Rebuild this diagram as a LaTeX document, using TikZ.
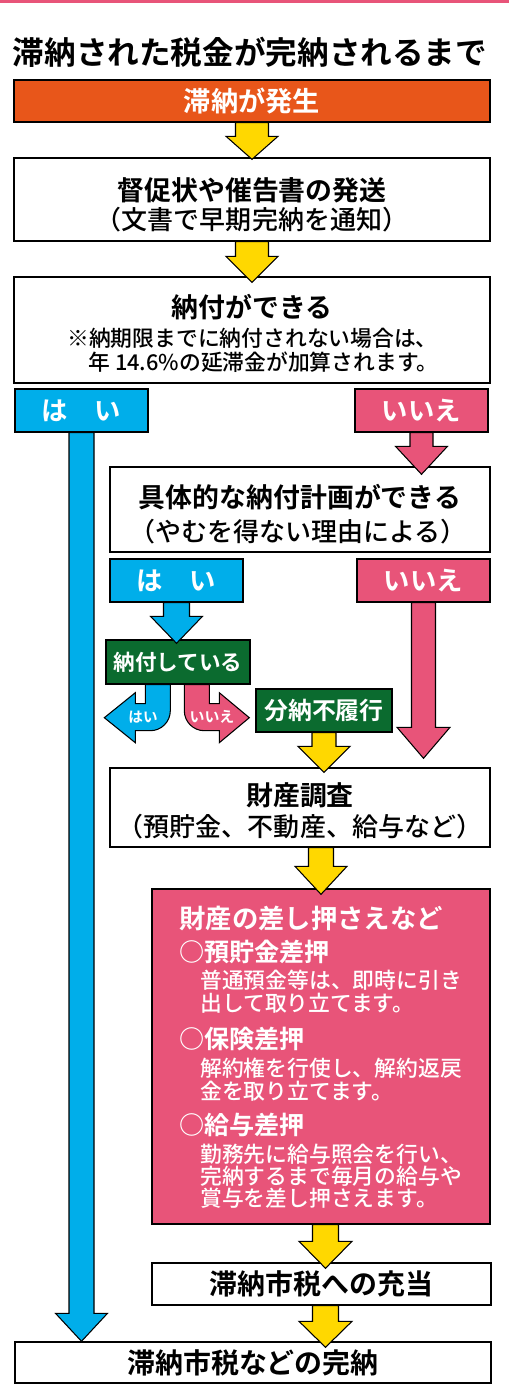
\documentclass[tikz,border=0pt]{standalone}
\usepackage{fontspec}
\setmainfont{Noto Sans CJK JP}[UprightFont={* Medium}, BoldFont={* Bold}]
\usetikzlibrary{calc}
\definecolor{occurorange}{HTML}{E8561A}
\definecolor{yesblue}{HTML}{00AEEA}
\definecolor{nopink}{HTML}{E85479}
\definecolor{paygreen}{HTML}{0B6B2F}
\definecolor{flowyellow}{HTML}{FFD800}

\begin{document}
\begin{tikzpicture}[x=0.02cm, y=-0.02cm]
    % Pixel unit
    \newcommand{\pxu}{0.02cm}
    % Block arrow: fill, start, tip, shaft half width, head half width, head length
    \newcommand{\blockarrow}[6]{
        \draw[line width=0.6pt, fill=#1] let \p1=#2, \p2=#3 in
        (\x2-#4*\pxu, \y1) -- (\x2-#4*\pxu, \y2+#6*\pxu) -- (\x2-#5*\pxu, \y2+#6*\pxu) -- (\x2, \y2)
        -- (\x2+#5*\pxu, \y2+#6*\pxu) -- (\x2+#4*\pxu, \y2+#6*\pxu) -- (\x2+#4*\pxu, \y1) -- cycle;
    }
    % Styles
    \tikzstyle{box}=[draw=black, line width=0.8pt, fill=white, inner sep=0pt]
    \tikzstyle{wide}=[box, minimum width=9.52cm]
    \tikzstyle{tag}=[box, minimum width=2.66cm, minimum height=0.86cm, text=white,
        font=\fontsize{15}{18}\selectfont\bfseries]
    \tikzstyle{head}=[inner sep=0pt, font=\fontsize{15.3}{18}\selectfont\bfseries]
    \tikzstyle{sub}=[inner sep=0pt, font=\fontsize{14.8}{17}\selectfont]
    \tikzstyle{note}=[anchor=west, inner sep=0pt, font=\fontsize{12.4}{14}\selectfont]
    \tikzstyle{item}=[anchor=west, inner sep=0pt, text=white, font=\fontsize{14.3}{16}\selectfont\bfseries]

    % Page
    \fill[white] (0,0) rectangle (509,1393);
    \useasboundingbox (0,0) rectangle (509,1393);
    \fill[nopink] (0,0) rectangle (509,3);

    % Title
    \node[inner sep=0pt, font=\fontsize{18}{20}\selectfont\bfseries] (title) at (250,52)
    {滞納された税金が完納されるまで};

    % Main boxes
    \node[wide, fill=occurorange, minimum height=0.84cm, text=white,
        font=\fontsize{15.5}{18}\selectfont\bfseries] (occur) at (252,101) {滞納が発生};
    \node[wide, minimum height=1.66cm] (notice) at (252,199.5) {};
    \node[head] (noticehead) at (252,190) {督促状や催告書の発送};
    \node[sub] (noticesub) at (252,220) {（文書で早期完納を通知）};

    \node[wide, minimum height=2.12cm] (canpay) at (252,330) {};
    \node[head] (canpayhead) at (252,307) {納付ができる};
    \node[note] (canpaynote) at (67,338) {※納期限までに納付されない場合は、};
    \node[note] (canpaynoteb) at (88,362) {年 14.6\%の延滞金が加算されます。};

    % Answers
    \node[tag, fill=yesblue] (yes1) at (81.5,410.5) {は　い};
    \node[tag, fill=nopink] (no1) at (421.5,410.5) {いいえ};

    \node[box, minimum width=7.6cm, minimum height=1.7cm] (plan) at (300,509.5) {};
    \node[head] (planhead) at (300,497) {具体的な納付計画ができる};
    \node[sub] (plansub) at (298,532) {（やむを得ない理由による）};

    \node[tag, fill=yesblue] (yes2) at (176.5,580.5) {は　い};
    \node[tag, fill=nopink] (no2) at (423.5,580.5) {いいえ};

    \node[box, fill=paygreen, text=white, minimum width=2.88cm, minimum height=0.88cm,
        font=\fontsize{12.3}{14}\selectfont\bfseries] (paying) at (178,662) {納付している};
    \node[box, fill=paygreen, text=white, minimum width=2.72cm, minimum height=0.86cm,
        font=\fontsize{13.6}{16}\selectfont\bfseries] (default) at (324,710.5) {分納不履行};

    \node[box, minimum width=7.6cm, minimum height=1.58cm] (survey) at (300,807.5) {};
    \node[head] (surveyhead) at (300,795) {財産調査};
    \node[sub] (surveysub) at (300,827) {（預貯金、不動産、給与など）};

    % Seizure box
    \node[box, fill=nopink, minimum width=6.76cm, minimum height=6.7cm] (seize) at (321,1056.5) {};
    \node[item, font=\fontsize{15}{17}\selectfont\bfseries] (seizehead) at (179,918) {財産の差し押さえなど};
    \node[item] (deposit) at (179,952) {○預貯金差押};
    \node[note, text=white] (deposita) at (200,980) {普通預金等は、即時に引き};
    \node[note, text=white] (depositb) at (200,1003) {出して取り立てます。};
    \node[item] (insure) at (179,1039) {○保険差押};
    \node[note, text=white] (insurea) at (200,1068) {解約権を行使し、解約返戻};
    \node[note, text=white] (insureb) at (200,1091) {金を取り立てます。};
    \node[item] (salary) at (179,1125) {○給与差押};
    \node[note, text=white] (salarya) at (200,1154) {勤務先に給与照会を行い、};
    \node[note, text=white] (salaryb) at (200,1176) {完納するまで毎月の給与や};
    \node[note, text=white] (salaryc) at (200,1198) {賞与を差し押さえます。};

    \node[box, minimum width=6.78cm, minimum height=0.84cm,
        font=\fontsize{15.9}{18}\selectfont\bfseries] (apply) at (321.5,1284) {滞納市税への充当};
    \node[wide, minimum height=0.82cm,
        font=\fontsize{15.9}{18}\selectfont\bfseries] (done) at (253,1362.5) {滞納市税などの完納};

    % Arrows
    \blockarrow{flowyellow}{(occur.south)}{($(notice.north)+(0,2)$)}{16.5}{26}{23}
    \blockarrow{flowyellow}{(notice.south)}{($(canpay.north)+(0,6)$)}{16.5}{26}{26}
    \blockarrow{nopink}{(no1.south)}{($(no1.south |- plan.north)+(0,8)$)}{11.5}{26}{28}
    \blockarrow{yesblue}{(yes2.south)}{($(yes2.south |- paying.north)+(0,4)$)}{13}{26}{27}
    \blockarrow{nopink}{(no2.south)}{($(no2.south |- survey.north)+(0,-9)$)}{12}{26.5}{31}
    \blockarrow{flowyellow}{(default.south)}{($(default.south |- survey.north)+(0,5)$)}{12}{26}{26}
    \blockarrow{flowyellow}{(survey.south)}{($(seize.north)+(0,6)$)}{12.5}{26}{28}
    \blockarrow{flowyellow}{(seize.south)}{($(apply.north)+(4,6)$)}{13}{26.5}{27}
    \blockarrow{flowyellow}{(apply.south)}{($(apply.north |- done.north)+(4,6)$)}{13}{26.5}{26}
    \blockarrow{yesblue}{(yes1.south)}{(yes1.south |- done.north)}{12.5}{26}{28}

    % Turning arrows under the green box
    \draw[line width=0.6pt, fill=yesblue] ($(paying.south west)+(40,0)$) -- ++(0,19) -- ++(-10,0)
    -- ++(0,-11) -- ++(-31,25) -- ++(31,25) -- ++(0,-12) -- ++(15,0)
    arc[start angle=270, end angle=360, radius=0.4cm] -- ($(paying.south west)+(65,0)$) -- cycle;
    \draw[line width=0.6pt, fill=nopink] ($(paying.south west)+(104,0)$) -- ++(0,19) -- ++(10,0)
    -- ++(0,-11) -- ++(30,25) -- ++(-30,25) -- ++(0,-12) -- ++(-15,0)
    arc[start angle=270, end angle=180, radius=0.4cm] -- ($(paying.south west)+(79,0)$) -- cycle;
    \node[inner sep=0pt, text=white, font=\fontsize{8.3}{10}\selectfont\bfseries] (yesback) at (143,717) {はい};
    \node[inner sep=0pt, text=white, font=\fontsize{8.5}{10}\selectfont\bfseries] (noahead) at (212,717) {いいえ};
\end{tikzpicture}
\end{document}
